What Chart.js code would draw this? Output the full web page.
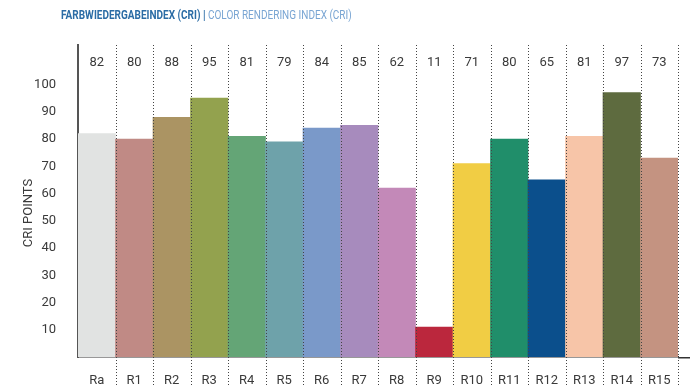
<!DOCTYPE html>
<html>
<head>
<meta charset="utf-8">
<script src="https://cdn.jsdelivr.net/npm/chart.js@4/dist/chart.umd.min.js"></script>
<style>
  html, body { margin: 0; padding: 0; background: #fff; }
  #wrap { position: relative; width: 690px; height: 385px; }
  #title {
    position: absolute; left: 61px; top: 7px;
    font-family: 'Roboto', sans-serif;
    font-size: 13px; white-space: nowrap;
    transform: scaleX(0.77); transform-origin: left top;
  }
  #title b { color: #2b6ca5; font-weight: bold; }
  #title span { color: #79a5d3; }
</style>
</head>
<body>
<div id="wrap">
  <div id="title"><b>FARBWIEDERGABEINDEX (CRI)</b><b> | </b><span>COLOR RENDERING INDEX (CRI)</span></div>
  <canvas id="criChart" width="690" height="385"></canvas>
</div>
<script>
// --- data ---
const categories = ['Ra', 'R1', 'R2', 'R3', 'R4', 'R5', 'R6', 'R7', 'R8', 'R9', 'R10', 'R11', 'R12', 'R13', 'R14', 'R15'];
const criValues = [82, 80, 88, 95, 81, 79, 84, 85, 62, 11, 71, 80, 65, 81, 97, 73];
const barColors = [
    '#e1e3e2', '#c08a85', '#ab9463', '#93a24e', '#64a576', '#6ea2aa', '#7a99c9', '#a78bbd',
    '#c389b8', '#bb273d', '#f1cd44', '#208e6a', '#0b4f8c', '#f7c5a8', '#5e6b3f', '#c49381'
];
const yTicks = [10, 20, 30, 40, 50, 60, 70, 80, 90, 100];
const yTitle = 'CRI POINTS';

const FONT = "'Roboto', sans-serif";
const TEXT = '#3a3a3a';

// dotted separators, value row on top, rotated axis title
const criDecor = {
    id: 'criDecor',
    afterDatasetsDraw(chart) {
        const { ctx, chartArea, scales } = chart;
        const x = scales.x;
        const half = (x.getPixelForValue(1) - x.getPixelForValue(0)) / 2;

        ctx.save();
        // x axis line runs out to the right edge
        ctx.strokeStyle = '#333';
        ctx.lineWidth = 1.5;
        ctx.beginPath();
        ctx.moveTo(chartArea.right, chartArea.bottom + 0.75);
        ctx.lineTo(chart.width, chartArea.bottom + 0.75);
        ctx.stroke();

        ctx.strokeStyle = '#444';
        ctx.lineWidth = 1;
        ctx.setLineDash([1, 2]);
        for (let i = 1; i <= categories.length; i++) {
            const px = Math.round(x.getPixelForValue(i - 1) + half) + 0.5;
            ctx.beginPath();
            ctx.moveTo(px, chartArea.top);
            ctx.lineTo(px, chart.height);
            ctx.stroke();
        }
        ctx.setLineDash([]);

        // values above the bars
        ctx.fillStyle = TEXT;
        ctx.font = '13px ' + FONT;
        ctx.textAlign = 'center';
        ctx.textBaseline = 'middle';
        criValues.forEach((v, i) => {
            ctx.fillText(String(v), x.getPixelForValue(i), chartArea.top + 18);
        });

        // y axis title
        ctx.translate(29, chartArea.top + (chartArea.bottom - chartArea.top) / 2 + 12);
        ctx.rotate(-Math.PI / 2);
        ctx.fillText(yTitle, 0, 0);
        ctx.restore();
    }
};

new Chart(document.getElementById('criChart'), {
    type: 'bar',
    data: {
        labels: categories,
        datasets: [{
            data: criValues,
            backgroundColor: barColors,
            borderWidth: 0,
            categoryPercentage: 1.0,
            barPercentage: 1.0
        }]
    },
    options: {
        responsive: false,
        animation: false,
        layout: { padding: { top: 45, right: 12, left: 0, bottom: 0 } },
        plugins: { legend: { display: false }, tooltip: { enabled: false } },
        scales: {
            x: {
                grid: { display: false },
                border: { display: true, color: '#333', width: 1.5 },
                ticks: { color: TEXT, font: { family: FONT, size: 13 }, padding: 8 },
                afterFit(scale) { scale.height = 28; }
            },
            y: {
                min: 0,
                max: 114.5,
                grid: { display: false },
                border: { display: true, color: '#555', width: 2 },
                afterBuildTicks(scale) { scale.ticks = yTicks.map(v => ({ value: v })); },
                ticks: { color: TEXT, font: { family: FONT, size: 13 }, padding: 14 },
                afterFit(scale) { scale.width = 78; }
            }
        }
    },
    plugins: [criDecor]
});
</script>
</body>
</html>
